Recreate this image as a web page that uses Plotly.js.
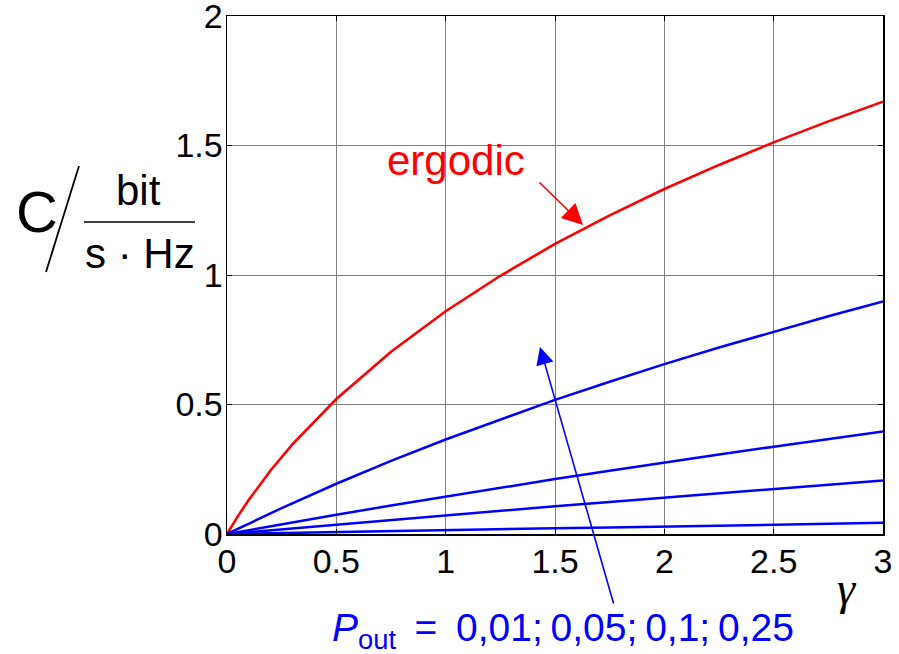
<!DOCTYPE html>
<html>
<head>
<meta charset="utf-8">
<script src="https://cdn.plot.ly/plotly-3.0.1.min.js"></script>
<style>html,body{margin:0;padding:0;background:#fff;}#chart{width:899px;height:654px;}</style>
</head>
<body>
<div id="chart"></div>
<script>
// SNR gamma values (x)
const gammaErg = [0, 0.05, 0.1, 0.2, 0.3, 0.5, 0.75, 1, 1.25, 1.5, 1.75, 2, 2.25, 2.5, 2.75, 3];
// ergodic capacity (bit/s/Hz)
const ergodic = [0, 0.069, 0.132, 0.246, 0.347, 0.521, 0.704, 0.860, 0.997, 1.120, 1.230, 1.332, 1.425, 1.512, 1.593, 1.669];
// outage capacity curves
const gammaOut = [0, 0.25, 0.5, 0.75, 1, 1.25, 1.5, 1.75, 2, 2.25, 2.5, 2.75, 3];
const pout025 = [0, 0.100, 0.194, 0.282, 0.365, 0.443, 0.518, 0.588, 0.656, 0.720, 0.782, 0.841, 0.898];
const pout010 = [0, 0.038, 0.074, 0.110, 0.145, 0.179, 0.212, 0.244, 0.276, 0.307, 0.337, 0.367, 0.396];
const pout005 = [0, 0.018, 0.037, 0.055, 0.072, 0.090, 0.107, 0.124, 0.141, 0.158, 0.174, 0.190, 0.207];
const pout001 = [0, 0.004, 0.007, 0.011, 0.014, 0.018, 0.022, 0.025, 0.029, 0.032, 0.036, 0.039, 0.043];
const xTicks = [0, 0.5, 1, 1.5, 2, 2.5, 3];
const xTickText = ['0', '0.5', '1', '1.5', '2', '2.5', '3'];
const yTicks = [0, 0.5, 1, 1.5, 2];
const yTickText = ['0', '0.5', '1', '1.5', '2'];

const FONT = 'Liberation Sans, Arial, Helvetica, sans-serif';
const blue = '#0000ff', red = '#ff0000';

const traces = [
  {x: gammaErg, y: ergodic, mode: 'lines', line: {color: red, width: 2.6}},
  {x: gammaOut, y: pout025, mode: 'lines', line: {color: blue, width: 2.5}},
  {x: gammaOut, y: pout010, mode: 'lines', line: {color: blue, width: 2.5}},
  {x: gammaOut, y: pout005, mode: 'lines', line: {color: blue, width: 2.5}},
  {x: gammaOut, y: pout001, mode: 'lines', line: {color: blue, width: 2.5}}
];

// helpers for paper coords from pixel positions
const L = 227, R = 883, T = 16, B = 534;
const px = v => (v - L) / (R - L);
const py = v => (B - v) / (B - T);

const axisCommon = {
  showgrid: true, gridcolor: '#808080', gridwidth: 1,
  zeroline: false, showline: true, mirror: 'ticks', linecolor: '#000', linewidth: 1.5,
  ticks: 'inside', ticklen: 5, tickwidth: 1, tickcolor: '#000',
  tickfont: {size: 34, family: FONT, color: '#000'}, ticklabeloverflow: 'allow'
};

const layout = {
  width: 899, height: 654,
  margin: {l: L, r: 899 - R, t: T, b: 654 - B},
  paper_bgcolor: '#fff', plot_bgcolor: '#fff',
  showlegend: false,
  font: {family: FONT, color: '#000'},
  xaxis: Object.assign({range: [0, 3], tickvals: xTicks, ticktext: xTickText, ticklabelstandoff: -3}, axisCommon),
  yaxis: Object.assign({range: [0, 2], tickvals: yTicks, ticktext: yTickText, ticklabelstandoff: -4}, axisCommon),
  shapes: [
    {type: 'line', xref: 'paper', yref: 'paper', x0: px(84), x1: px(195), y0: py(222), y1: py(222), line: {color: '#000', width: 1.5}},
    {type: 'line', xref: 'paper', yref: 'paper', x0: px(79), x1: px(46), y0: py(166), y1: py(272), line: {color: '#000', width: 1.8}}
  ],
  annotations: [
    {xref: 'paper', yref: 'paper', x: px(456), y: py(160), text: 'ergodic', showarrow: false,
     xanchor: 'center', yanchor: 'middle', font: {size: 42, color: red, family: FONT}},
    {xref: 'x', yref: 'y', x: (583 - L) / (R - L) * 3, y: (B - 225) / (B - T) * 2, ax: -45, ay: -44,
     text: '', showarrow: true, arrowhead: 2, arrowsize: 2.6, arrowwidth: 1.6, arrowcolor: red, standoff: 0},
    {xref: 'x', yref: 'y', x: (540 - L) / (R - L) * 3, y: (B - 347) / (B - T) * 2, ax: 74, ay: 258,
     text: '', showarrow: true, arrowhead: 2, arrowsize: 2.2, arrowwidth: 1.6, arrowcolor: blue, standoff: 0},
    {xref: 'paper', yref: 'paper', x: px(563), y: py(630), text: '<i>P</i><sub>out</sub>\u2009 = \u20090,01;\u20090,05;\u20090,1;\u20090,25', showarrow: false,
     xanchor: 'center', yanchor: 'middle', font: {size: 39, color: blue, family: FONT}},
    {xref: 'paper', yref: 'paper', x: px(847), y: py(588), text: '<i>γ</i>', showarrow: false,
     xanchor: 'center', yanchor: 'middle', font: {size: 46, color: '#000', family: 'Liberation Serif, Times New Roman, serif'}},
    {xref: 'paper', yref: 'paper', x: px(37), y: py(211), text: 'C', showarrow: false,
     xanchor: 'center', yanchor: 'middle', font: {size: 58, color: '#000', family: FONT}},
    {xref: 'paper', yref: 'paper', x: px(138), y: py(190), text: 'bit', showarrow: false,
     xanchor: 'center', yanchor: 'middle', font: {size: 42, color: '#000', family: FONT}},
    {xref: 'paper', yref: 'paper', x: px(140), y: py(253), text: 's · Hz', showarrow: false,
     xanchor: 'center', yanchor: 'middle', font: {size: 42, color: '#000', family: FONT}}
  ]
};

Plotly.newPlot('chart', traces, layout, {staticPlot: true, displayModeBar: false});
</script>
</body>
</html>
